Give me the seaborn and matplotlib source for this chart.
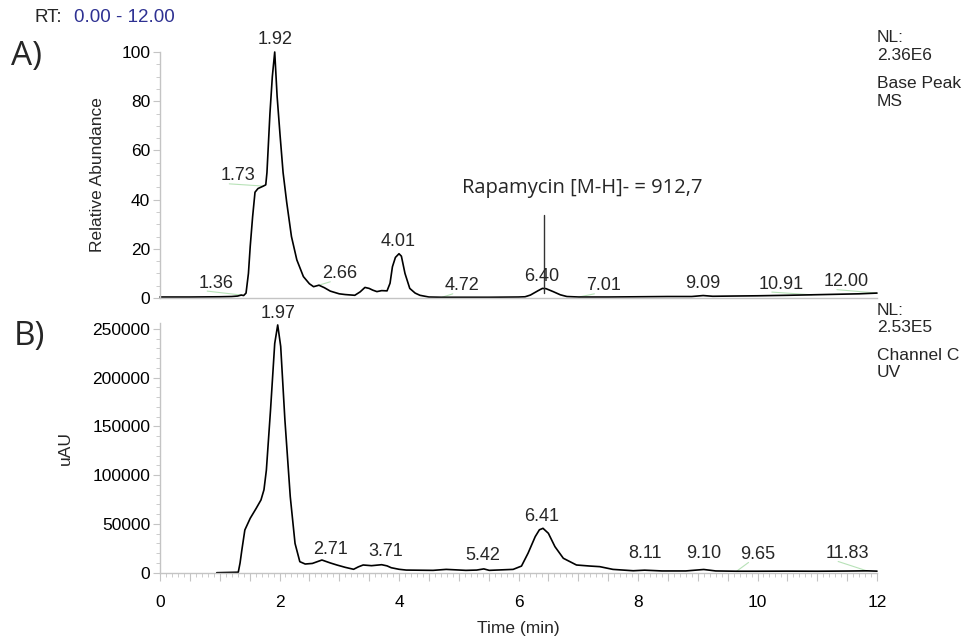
import matplotlib
matplotlib.use("Agg")
import matplotlib.pyplot as plt
import numpy as np
import pandas as pd
import seaborn as sns
from matplotlib.ticker import MultipleLocator, FuncFormatter

# --- A) base peak MS trace (relative abundance, %) ---
ms_time = [0.00, 0.50, 1.00, 1.20, 1.30, 1.36, 1.40, 1.44, 1.48, 1.51, 1.55, 1.59,
           1.64, 1.73, 1.77, 1.79, 1.84, 1.88, 1.92, 1.96, 2.01, 2.06, 2.12, 2.20,
           2.29, 2.40, 2.50, 2.57, 2.66, 2.75, 2.85, 3.00, 3.10, 3.26, 3.35, 3.43,
           3.50, 3.56, 3.63, 3.71, 3.80, 3.85, 3.89, 3.94, 4.00, 4.04, 4.10, 4.18,
           4.27, 4.35, 4.50, 4.72, 5.00, 5.50, 6.00, 6.11, 6.20, 6.25, 6.33, 6.40,
           6.46, 6.58, 6.70, 6.81, 7.01, 7.50, 8.00, 8.50, 8.90, 9.09, 9.25, 9.60,
           10.00, 10.50, 10.91, 11.30, 11.70, 12.00]
ms_abund = [0.4, 0.4, 0.5, 0.6, 0.8, 1.2, 1.0, 2.0, 10, 21, 33, 43,
            44.5, 45.5, 46, 51, 75, 90, 100, 82, 66, 51, 39, 25,
            15.5, 8.7, 5.8, 4.6, 5.2, 4.2, 2.8, 1.7, 1.4, 1.1, 2.5, 4.3,
            3.9, 3.2, 2.6, 3.0, 2.9, 6.0, 12.7, 16.5, 18.0, 17.0, 10, 3.9,
            2.0, 1.1, 0.4, 0.3, 0.3, 0.3, 0.4, 0.5, 1.2, 1.9, 3.0, 3.9,
            3.8, 2.6, 1.3, 0.6, 0.4, 0.4, 0.5, 0.6, 0.6, 1.0, 0.7, 0.8,
            0.9, 1.1, 1.3, 1.5, 1.7, 2.0]

ms_labels = ["1.36", "1.73", "1.92", "2.66", "4.01", "4.72", "6.40", "7.01",
             "9.09", "10.91", "12.00"]
ms_label_x = [0.94, 1.31, 1.925, 3.00, 3.99, 5.05, 6.39, 7.42, 9.08, 10.39, 11.48]
ms_label_y = [6.0, 49.6, 105.0, 9.8, 22.9, 4.9, 8.7, 4.9, 5.7, 5.6, 6.6]

# --- B) UV trace (uAU) ---
uv_time = [0.95, 1.31, 1.34, 1.37, 1.42, 1.51, 1.61, 1.69, 1.74, 1.78, 1.85, 1.92,
           1.97, 2.02, 2.09, 2.18, 2.26, 2.34, 2.43, 2.55, 2.71, 2.85, 2.96, 3.10,
           3.24, 3.32, 3.40, 3.54, 3.71, 3.80, 3.87, 4.00, 4.12, 4.57, 4.79, 5.12,
           5.30, 5.42, 5.51, 5.91, 6.05, 6.16, 6.28, 6.35, 6.41, 6.50, 6.61, 6.75,
           6.97, 7.20, 7.36, 7.58, 7.92, 8.11, 8.40, 8.80, 9.10, 9.30, 9.65, 10.00,
           10.50, 11.00, 11.50, 11.83, 12.00]
uv_signal = [0, 500, 10000, 23300, 43800, 55800, 66000, 74600, 85000, 105000, 167000, 235000,
             254000, 232000, 157000, 78000, 30000, 11300, 8900, 9500, 13000, 10000, 7900, 5500,
             3500, 6000, 7900, 7200, 8200, 7000, 5100, 3500, 2700, 2400, 3400, 2400,
             2700, 3900, 2400, 3400, 6800, 20000, 37000, 44000, 45500, 40400, 26700, 14800,
             7900, 6800, 6200, 3400, 2000, 2600, 1800, 1800, 3300, 1800, 1500, 1500,
             1600, 1500, 1700, 1900, 1600]

uv_labels = ["1.97", "2.71", "3.71", "5.42", "6.41", "8.11", "9.10", "9.65", "11.83"]
uv_label_x = [1.97, 2.85, 3.78, 5.40, 6.39, 8.11, 9.10, 10.00, 11.50]
uv_label_y = [266000, 24000, 22000, 17500, 58000, 19500, 19500, 18500, 19500]

ms_df = pd.DataFrame({"time": ms_time, "abund": ms_abund})
uv_df = pd.DataFrame({"time": uv_time, "signal": uv_signal})

sns.set_style("ticks")
plt.rcParams['font.family'] = ['Liberation Sans', 'DejaVu Sans']

W, H = 964, 637
fig = plt.figure(figsize=(W / 100, H / 100), dpi=100)
ax1 = fig.add_axes([160 / W, 1 - 298 / H, 717 / W, 246 / H])
ax2 = fig.add_axes([160 / W, 1 - 572.7 / H, 717 / W, 249.7 / H])

grey = '#c4c4c4'
leader = '#b8e2b8'

sns.lineplot(data=ms_df, x="time", y="abund", ax=ax1, color='black',
             linewidth=1.2, estimator=None, sort=False)
sns.lineplot(data=uv_df, x="time", y="signal", ax=ax2, color='black',
             linewidth=1.2, estimator=None, sort=False)

for ax in (ax1, ax2):
    ax.set_xlim(0, 12)
    for s in ('top', 'right'):
        ax.spines[s].set_visible(False)
    for s in ('left', 'bottom'):
        ax.spines[s].set_color(grey)
        ax.spines[s].set_linewidth(1.0)
    ax.tick_params(axis='both', which='both', color=grey, labelsize=12.5,
                   labelcolor='black', direction='out')
    ax.tick_params(axis='y', which='major', length=5, pad=2)
    ax.tick_params(axis='y', which='minor', length=3)
    for ln in ax.get_lines():
        ln.set_clip_on(False)

# top panel
ax1.set_ylim(0, 100)
ax1.yaxis.set_major_locator(MultipleLocator(20))
ax1.yaxis.set_minor_locator(MultipleLocator(5))
ax1.tick_params(axis='x', which='both', length=0, labelbottom=False)
ax1.set_xlabel("")
ax1.set_ylabel("Relative Abundance", fontsize=12.5, labelpad=12)

# bottom panel
ax2.set_ylim(0, 256000)
ax2.yaxis.set_major_locator(MultipleLocator(50000))
ax2.yaxis.set_minor_locator(MultipleLocator(10000))
ax2.xaxis.set_major_locator(MultipleLocator(0.5))
ax2.xaxis.set_minor_locator(MultipleLocator(0.1))
ax2.xaxis.set_major_formatter(FuncFormatter(
    lambda v, p: f"{v:.0f}" if abs(v / 2 - round(v / 2)) < 1e-6 else ""))
ax2.tick_params(axis='x', which='major', length=6, pad=10)
ax2.tick_params(axis='x', which='minor', length=3)
ax2.set_xlabel("Time (min)", fontsize=12.5, labelpad=8)
ax2.set_ylabel("uAU", fontsize=12.5, labelpad=14)


def label_peaks(ax, labels, lx, ly, t, v, drop):
    for txt, x, y in zip(labels, lx, ly):
        ax.text(x, y, txt, ha='center', va='center', fontsize=13, clip_on=False)
        rt = float(txt)
        if abs(rt - x) > 0.15:
            # faint leader from the displaced label to its peak
            ax.plot([x - 0.15, rt], [y - drop, np.interp(rt, t, v)],
                    color=leader, linewidth=0.8, zorder=1)


label_peaks(ax1, ms_labels, ms_label_x, ms_label_y, ms_time, ms_abund, 3.2)
label_peaks(ax2, uv_labels, uv_label_x, uv_label_y, uv_time, uv_signal, 8000)

# rapamycin marker
ax1.plot([6.43, 6.43], [33.7, 2.0], color='#333333', linewidth=1.0)
ax1.text(7.06, 44.7, "Rapamycin [M-H]- = 912,7", ha='center', va='center',
         fontsize=14.5, family=['Open Sans', 'DejaVu Sans'])

# header and panel letters
fig.text(35 / W, 1 - 17 / H, "RT:", fontsize=13.5, ha='left', va='center')
fig.text(74 / W, 1 - 17 / H, "0.00 - 12.00", fontsize=13.5, ha='left', va='center',
         color='#2e3192')
fig.text(11 / W, 1 - 57 / H, "A)", fontsize=24, ha='left', va='center',
         family=['Open Sans', 'DejaVu Sans'])
fig.text(14 / W, 1 - 337 / H, "B)", fontsize=24, ha='left', va='center',
         family=['Open Sans', 'DejaVu Sans'])

# normalisation level blocks
ms_info = ["NL:", "2.36E6", "Base Peak", "MS"]
uv_info = ["NL:", "2.53E5", "Channel C", "UV"]
info_offsets = [0, 17, 45, 63]
for lines, top in ((ms_info, 38), (uv_info, 310)):
    for line, off in zip(lines, info_offsets):
        fig.text(877 / W, 1 - (top + off) / H, line, fontsize=12.5,
                 ha='left', va='center')

fig.savefig("out.png", dpi=100)
